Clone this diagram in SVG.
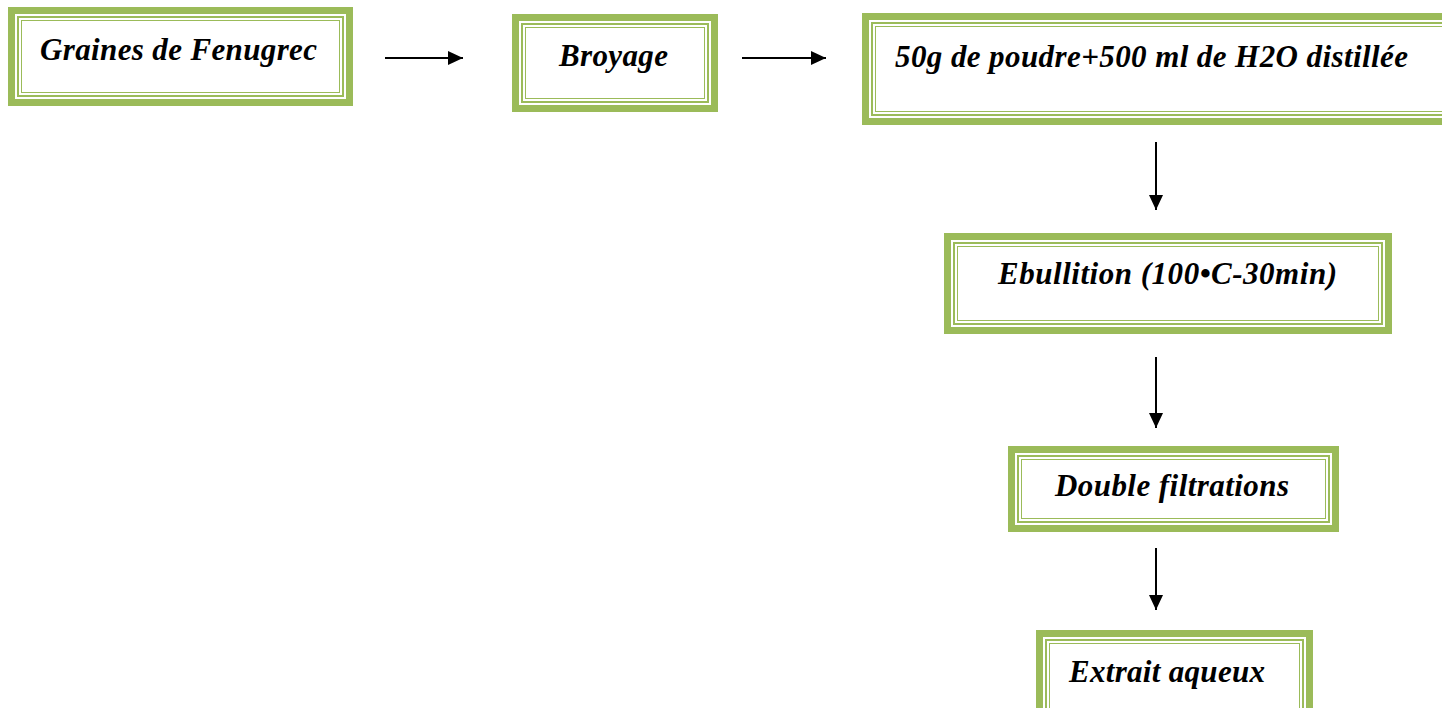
<svg xmlns="http://www.w3.org/2000/svg" width="1442" height="708" viewBox="0 0 1442 708">
<defs>
<style>
.outer{fill:#fff;stroke:#9bbb59;stroke-width:7}
.in1{fill:none;stroke:#9bbb59;stroke-width:2}
.in2{fill:none;stroke:#9bbb59;stroke-width:1}
.t{font-family:"Liberation Serif","Times New Roman",serif;font-weight:bold;font-style:italic;font-size:31px;fill:#000}
.c{stroke:#000;stroke-width:2;fill:none}
</style>
<marker id="ah" viewBox="0 0 10 10" refX="10" refY="5" markerWidth="7.5" markerHeight="7" markerUnits="strokeWidth" orient="auto" preserveAspectRatio="none">
<path d="M0,0 L10,5 L0,10 z" fill="#000"/>
</marker>
</defs>
<rect width="1442" height="708" fill="#fff"/>
<g id="n1">
<rect class="outer" x="11.5" y="10.5" width="338" height="92"/>
<rect class="in1" x="18" y="17" width="325" height="79"/>
<rect class="in2" x="21.5" y="20.5" width="318" height="72"/>
<text class="t" x="40" y="60" textLength="277" lengthAdjust="spacing">Graines de Fenugrec</text>
</g>
<g id="n2">
<rect class="outer" x="515.5" y="17.5" width="199" height="91"/>
<rect class="in1" x="522" y="24" width="186" height="78"/>
<rect class="in2" x="525.5" y="27.5" width="179" height="71"/>
<text class="t" x="559" y="66" textLength="109" lengthAdjust="spacing">Broyage</text>
</g>
<g id="n3">
<rect class="outer" x="865.5" y="16.5" width="590" height="105"/>
<rect class="in1" x="872" y="23" width="577" height="92"/>
<rect class="in2" x="875.5" y="26.5" width="570" height="85"/>
<text class="t" x="895" y="67" textLength="513" lengthAdjust="spacing">50g de poudre+500 ml de H2O distillée</text>
</g>
<g id="n4">
<rect class="outer" x="947.5" y="236.5" width="441" height="94"/>
<rect class="in1" x="954" y="243" width="428" height="81"/>
<rect class="in2" x="957.5" y="246.5" width="421" height="74"/>
<text class="t" x="998" y="284" textLength="339" lengthAdjust="spacing">Ebullition (100•C-30min)</text>
</g>
<g id="n5">
<rect class="outer" x="1011.5" y="449.5" width="324" height="79"/>
<rect class="in1" x="1018" y="456" width="311" height="66"/>
<rect class="in2" x="1021.5" y="459.5" width="304" height="59"/>
<text class="t" x="1055" y="496" textLength="234" lengthAdjust="spacing">Double filtrations</text>
</g>
<g id="n6">
<rect class="outer" x="1039.5" y="633.5" width="270" height="90"/>
<rect class="in1" x="1046" y="640" width="257" height="77"/>
<rect class="in2" x="1049.5" y="643.5" width="250" height="70"/>
<text class="t" x="1069" y="682" textLength="196" lengthAdjust="spacing">Extrait aqueux</text>
</g>
<g id="connectors">
<line class="c" x1="385" y1="58" x2="463" y2="58" marker-end="url(#ah)"/>
<line class="c" x1="742" y1="58" x2="826" y2="58" marker-end="url(#ah)"/>
<line class="c" x1="1156" y1="142" x2="1156" y2="210" marker-end="url(#ah)"/>
<line class="c" x1="1156" y1="357" x2="1156" y2="428" marker-end="url(#ah)"/>
<line class="c" x1="1156" y1="548" x2="1156" y2="610" marker-end="url(#ah)"/>
</g>
</svg>
